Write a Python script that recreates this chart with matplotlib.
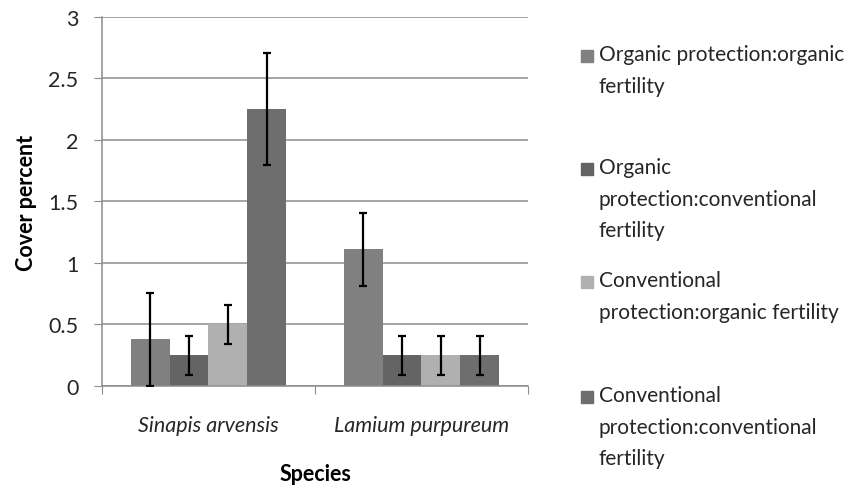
import matplotlib
matplotlib.use("Agg")
import matplotlib.pyplot as plt
import numpy as np
from matplotlib.patches import Rectangle

plt.rcParams['font.family'] = ['Lato', 'DejaVu Sans']

species = ["Sinapis arvensis", "Lamium purpureum"]
series = ["Organic protection:organic\nfertility",
          "Organic\nprotection:conventional\nfertility",
          "Conventional\nprotection:organic fertility",
          "Conventional\nprotection:conventional\nfertility"]
means = [[0.38, 1.11],
         [0.25, 0.25],
         [0.50, 0.25],
         [2.25, 0.25]]
errs = [[0.38, 0.30],
        [0.16, 0.16],
        [0.16, 0.16],
        [0.455, 0.16]]
yticks = [0, 0.5, 1, 1.5, 2, 2.5, 3]
ytick_labels = ["0", "0.5", "1", "1.5", "2", "2.5", "3"]

colors = ["#808080", "#646464", "#b0b0b0", "#6e6e6e"]
grid_c = "#8c8c8c"
txt_c = "#262626"
fs = 15.5

fig = plt.figure(figsize=(8.54, 4.89), dpi=100)
ax = fig.add_axes([0.1194, 0.2086, 0.4988, 0.7546])

x = np.arange(len(species))
w = 0.182
for i in range(len(series)):
    pos = x + (i - 1.5) * w
    ax.bar(pos, means[i], width=w, color=colors[i], zorder=2)
    ax.errorbar(pos, means[i], yerr=errs[i], fmt='none', ecolor='black',
                elinewidth=1.6, capsize=3.2, capthick=1.6, zorder=3)

ax.set_xlim(-0.5, 1.5)
ax.set_ylim(0, 3)
ax.set_yticks(yticks)
ax.set_yticklabels(ytick_labels, fontsize=fs, color=txt_c)
ax.yaxis.grid(True, color=grid_c, linewidth=1.1, zorder=0)
ax.set_axisbelow(True)

ax.set_xticks([-0.5, 0.5, 1.5])
ax.set_xticklabels([])
ax.set_xticks(x, minor=True)
ax.set_xticklabels(species, minor=True, fontsize=fs, style='italic', color=txt_c)
ax.tick_params(axis='x', which='minor', length=0, pad=21)
ax.tick_params(axis='x', which='major', length=6, color=grid_c, direction='out')
ax.tick_params(axis='y', length=6, color=grid_c, direction='out', pad=11)

for s in ['top', 'right']:
    ax.spines[s].set_visible(False)
for s in ['left', 'bottom']:
    ax.spines[s].set_color(grid_c)
    ax.spines[s].set_linewidth(1.1)

ax.set_ylabel("Cover percent", fontsize=fs, fontweight='bold', labelpad=8, color="black")
ax.set_xlabel("Species", fontsize=fs, fontweight='bold', labelpad=20, color="black")

# legend drawn by hand to match the uneven spacing
legend_y = [57, 170, 283, 398]
for i, lab in enumerate(series):
    yy = 1 - legend_y[i] / 489
    fig.patches.append(Rectangle((581 / 854, yy - 6 / 489), 12 / 854, 12 / 489,
                                 transform=fig.transFigure, color=colors[i]))
    fig.text(599 / 854, yy + 12 / 489, lab, fontsize=15, va='top', ha='left',
             color=txt_c, linespacing=1.72)

fig.savefig("out.png", dpi=100)
